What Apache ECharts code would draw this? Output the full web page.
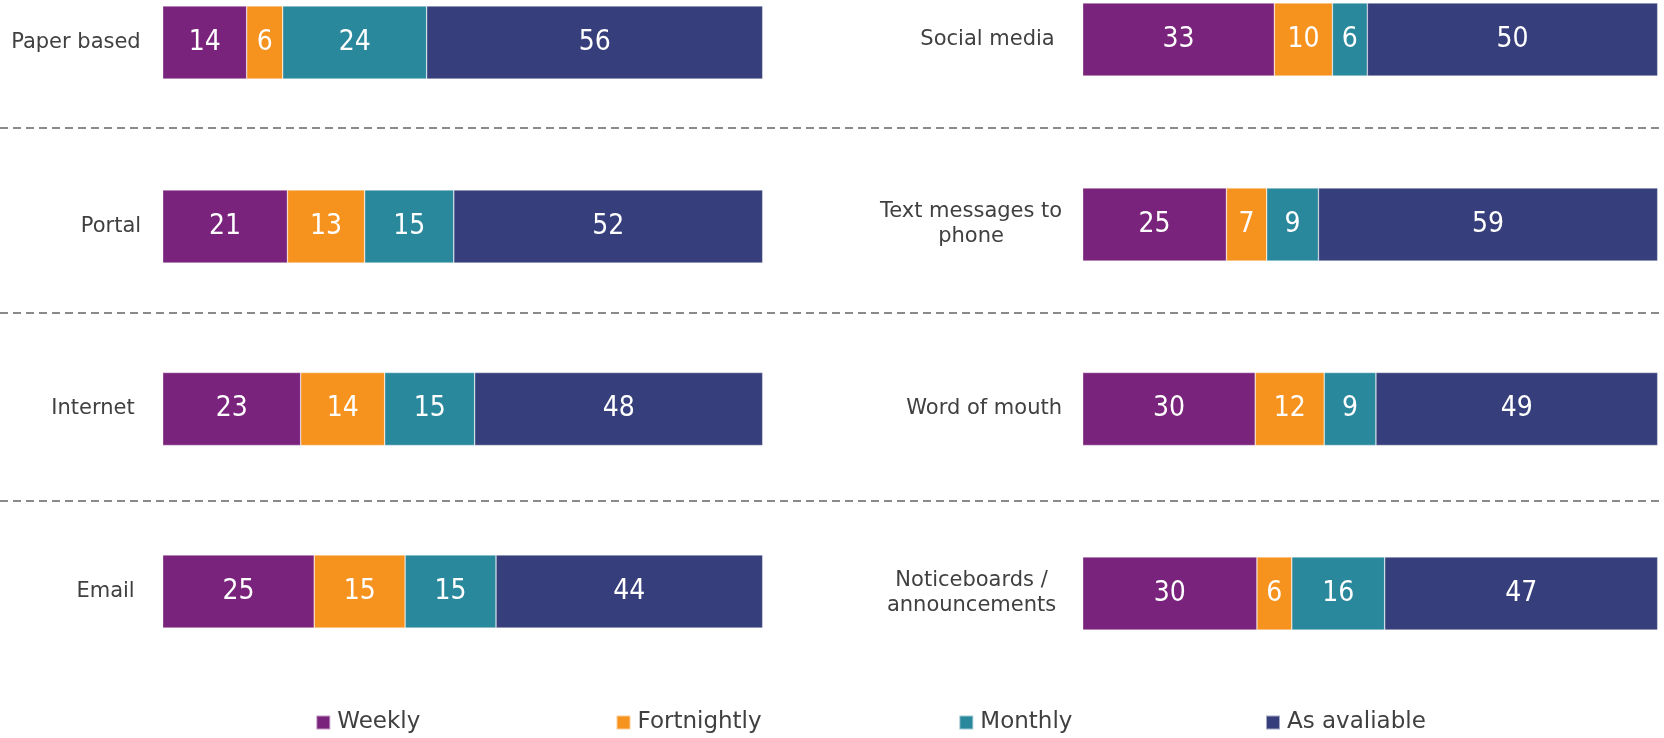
<!DOCTYPE html>
<html>
<head>
<meta charset="utf-8">
<script src="https://cdn.jsdelivr.net/npm/echarts@6/dist/echarts.min.js"></script>
<style>
html,body{margin:0;padding:0;background:#fff;}
#chart{width:1664px;height:738px;}
</style>
</head>
<body>
<div id="chart"></div>
<script>
// ---- data ----
const categoriesLeft = ['Paper based', 'Portal', 'Internet', 'Email'];
const categoriesRight = ['Social media', 'Text messages to\nphone', 'Word of mouth', 'Noticeboards /\nannouncements'];
const seriesNames = ['Weekly', 'Fortnightly', 'Monthly', 'As avaliable'];
const weekly      = [14, 21, 23, 25, 33, 25, 30, 30];
const fortnightly = [ 6, 13, 14, 15, 10,  7, 12,  6];
const monthly     = [24, 15, 15, 15,  6,  9,  9, 16];
const asAvailable = [56, 52, 48, 44, 50, 59, 49, 47];

// ---- styling / layout ----
const categories = categoriesLeft.concat(categoriesRight);
const values = [weekly, fortnightly, monthly, asAvailable];
const colors = ['#7A237D', '#F6921E', '#2A889D', '#363F7B'];
const barTops = [6, 190, 372.5, 555, 3, 188, 372.5, 557];
const barHeight = 73;
const panelLeft = [162.7, 1082.7];
const panelWidth = [600, 575];
const labelMargins = [22, 21.6, 28, 28, 28, 20.5, 20.7, 26.5];
const legendLefts = [315.3, 615.5, 958.3, 1265];
const dividerY = [128, 313, 501];
const FONT = '"DejaVu Sans", Verdana, sans-serif';
const NUMFONT = '"DejaVu Sans Condensed", "DejaVu Sans", sans-serif';

const grid = [], xAxis = [], yAxis = [], series = [];
categories.forEach((cat, i) => {
  const p = i < 4 ? 0 : 1;
  grid.push({ left: panelLeft[p], width: panelWidth[p], top: barTops[i], height: barHeight, containLabel: false });
  xAxis.push({ type: 'value', gridIndex: i, min: 0, max: 'dataMax', show: false });
  yAxis.push({
    type: 'category', gridIndex: i, data: [cat],
    axisLine: { show: false }, axisTick: { show: false }, splitLine: { show: false },
    axisLabel: {
      margin: labelMargins[i], fontSize: 21, color: '#404040', fontFamily: FONT,
      lineHeight: 25,
      formatter: v => v.indexOf('\n') >= 0 ? v.split('\n').map(s => '{c|' + s + '}').join('\n') : v,
      rich: { c: { align: 'center', fontSize: 21, color: '#404040', fontFamily: FONT, lineHeight: 25 } }
    }
  });
});
seriesNames.forEach((name, s) => {
  categories.forEach((cat, i) => {
    series.push({
      type: 'bar', name: name, stack: 'row' + i,
      xAxisIndex: i, yAxisIndex: i,
      data: [values[s][i]],
      barWidth: '100%',
      itemStyle: { color: colors[s], borderColor: 'rgba(255,255,255,0.55)', borderWidth: 0.6 },
      label: { show: true, position: 'inside', color: '#ffffff', fontSize: 28, fontFamily: NUMFONT },
      emphasis: { disabled: true }
    });
  });
});

const legend = seriesNames.map((n, i) => ({
  data: [n], left: legendLefts[i], top: 711, padding: 0,
  icon: 'rect', itemWidth: 14, itemHeight: 14, selectedMode: false,
  textStyle: { fontSize: 23, color: '#404040', fontFamily: FONT, padding: [0, 0, 0, 2] }
}));

const graphic = dividerY.map(y => ({
  type: 'line', silent: true,
  shape: { x1: 0, y1: y, x2: 1664, y2: y },
  style: { stroke: '#8a8a8a', lineWidth: 2, lineDash: [8, 5] }
}));

const chart = echarts.init(document.getElementById('chart'), null, { renderer: 'canvas' });
chart.setOption({
  animation: false,
  backgroundColor: '#ffffff',
  color: colors,
  grid, xAxis, yAxis, series, legend, graphic
});
</script>
</body>
</html>
